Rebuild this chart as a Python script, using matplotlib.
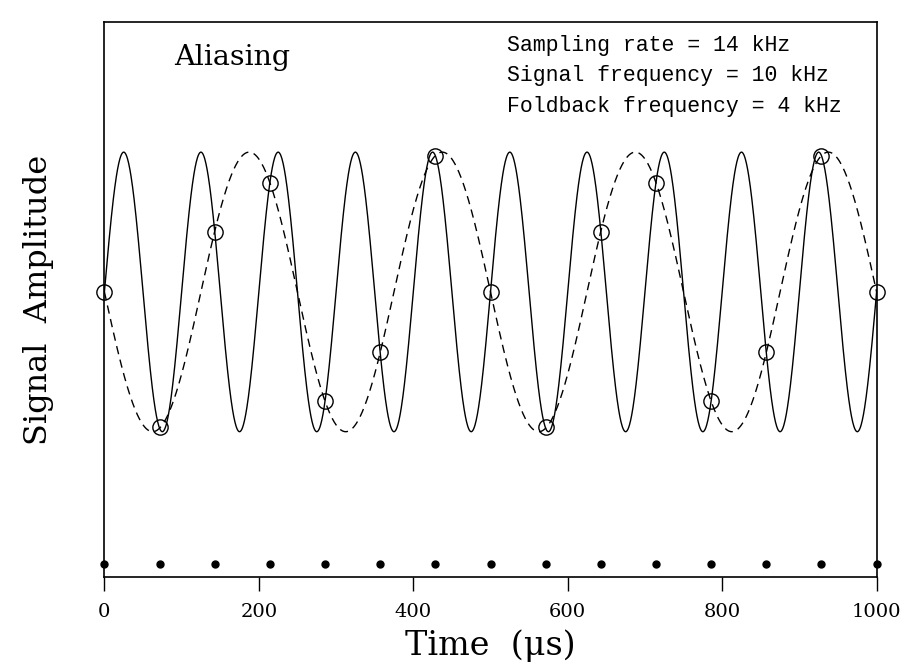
import numpy as np
import matplotlib
matplotlib.use('Agg')
import matplotlib.pyplot as plt

plt.rcParams['font.family'] = ['DejaVu Serif']

# frequencies (kHz) as stated on the chart
fs = 14.0
f_signal = 10.0
f_fold = 4.0

t_samples = np.arange(15) * 1000.0 / fs
y_samples = [0.0, -0.97, 0.43, 0.78, -0.78, -0.43, 0.97, 0.0,
             -0.97, 0.43, 0.78, -0.78, -0.43, 0.97, 0.0]
dot_level = -1.95

t = np.linspace(0, 1000, 2001)
signal = np.sin(2 * np.pi * f_signal * t / 1000.0)
foldback = -np.sin(2 * np.pi * f_fold * t / 1000.0)

fig = plt.figure(figsize=(9, 6.71), dpi=100)
ax = fig.add_axes([0.116, 0.140, 0.858, 0.827])

ax.plot(t, signal, color='black', lw=1.0)
ax.plot(t, foldback, color='black', lw=1.0, linestyle=(0, (6, 4)))
ax.plot(t_samples, y_samples, linestyle='none', marker='o', ms=11,
        mfc='none', mec='black', mew=1.0, clip_on=False)
ax.plot(t_samples, [dot_level] * len(t_samples), linestyle='none',
        marker='o', ms=5, color='black', clip_on=False)

ax.set_xlim(0, 1000)
ax.set_ylim(-2.04, 1.93)
ax.set_xticks([0, 200, 400, 600, 800, 1000])
ax.set_yticks([])
ax.tick_params(axis='x', direction='out', length=10, width=1, pad=9, labelsize=14)
for s in ax.spines.values():
    s.set_linewidth(1.2)

ax.set_xlabel('Time  (\u03bcs)', fontsize=24, labelpad=6)
ax.set_ylabel('Signal  Amplitude', fontsize=23, labelpad=36)

ax.text(90, 1.68, 'Aliasing', fontsize=20.5, va='center', ha='left')
mono = dict(family=['Liberation Mono', 'DejaVu Sans Mono'], fontsize=15.5,
            va='center', ha='left')
ax.text(522, 1.76, 'Sampling rate = 14 kHz', **mono)
ax.text(522, 1.545, 'Signal frequency = 10 kHz', **mono)
ax.text(522, 1.325, 'Foldback frequency = 4 kHz', **mono)

fig.savefig('out.png', dpi=100)
